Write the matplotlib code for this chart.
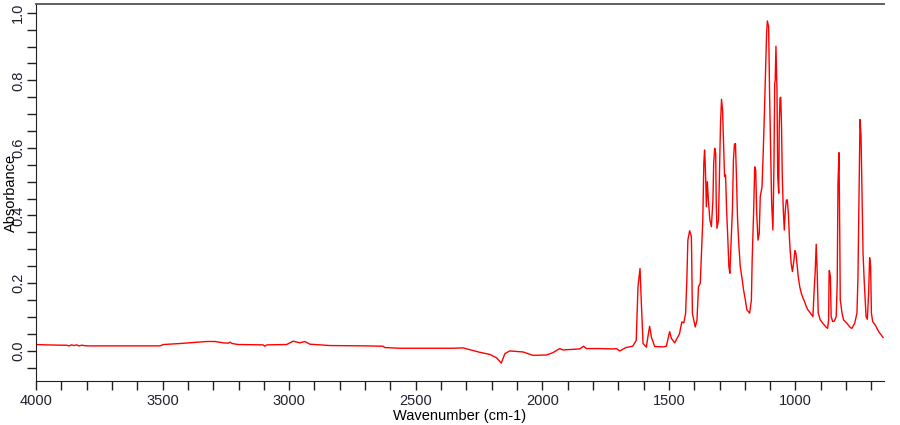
import matplotlib
matplotlib.use("Agg")
import matplotlib.pyplot as plt
from matplotlib.ticker import MultipleLocator
import numpy as np

plt.rcParams['font.family'] = ['Liberation Sans', 'DejaVu Sans']

# espectro (cm-1, absorbancia)
wavenumber = [
    4000, 3960, 3900, 3879, 3870, 3860, 3850, 3840, 3830, 3820, 3800, 3700, 3600, 3510,
    3497, 3431, 3379, 3326, 3293, 3260, 3240, 3234, 3225, 3201, 3103, 3096, 3088, 3010,
    2984, 2958, 2938, 2918, 2839, 2700, 2629, 2622, 2563, 2458, 2353, 2313, 2287, 2247,
    2208, 2181, 2162, 2148, 2129, 2076, 2037, 1984, 1958, 1931, 1918, 1852, 1837, 1826,
    1773, 1721, 1707, 1694, 1670, 1643, 1629, 1622, 1614, 1609, 1602, 1589, 1581, 1576,
    1569, 1556, 1523, 1510, 1497, 1490, 1477, 1458, 1449, 1441, 1434, 1429, 1425, 1418,
    1411, 1407, 1396, 1389, 1383, 1376, 1371, 1366, 1362, 1359, 1357, 1354, 1352, 1348,
    1344, 1338, 1332, 1326, 1323, 1319, 1315, 1313, 1310, 1304, 1300, 1296, 1292, 1288,
    1284, 1280, 1276, 1272, 1268, 1263, 1259, 1255, 1249, 1245, 1241, 1237, 1233, 1229,
    1224, 1218, 1212, 1205, 1198, 1192, 1181, 1174, 1171, 1165, 1161, 1157, 1153, 1148,
    1143, 1139, 1132, 1127, 1123, 1118, 1114, 1111, 1106, 1102, 1098, 1094, 1089, 1085,
    1082, 1080, 1077, 1073, 1070, 1066, 1064, 1061, 1058, 1055, 1052, 1048, 1044, 1040,
    1036, 1032, 1028, 1024, 1021, 1017, 1012, 1006, 1002, 998, 994, 989, 983, 977,
    970, 964, 957, 951, 941, 931, 926, 922, 918, 914, 910, 902, 892, 881,
    873, 869, 867, 866, 862, 859, 853, 846, 839, 835, 832, 828, 825, 823,
    816, 810, 797, 783, 777, 766, 757, 753, 749, 745, 741, 737, 733, 728,
    721, 716, 711, 707, 703, 700, 695, 685, 671, 654,
]
absorbance = [
    0.018, 0.017, 0.016, 0.016, 0.014, 0.017, 0.015, 0.017, 0.014, 0.016, 0.014, 0.014, 0.014, 0.014,
    0.018, 0.021, 0.024, 0.027, 0.027, 0.023, 0.022, 0.025, 0.021, 0.018, 0.017, 0.013, 0.017, 0.018,
    0.028, 0.023, 0.027, 0.019, 0.015, 0.014, 0.013, 0.009, 0.007, 0.007, 0.007, 0.008, 0.003, -0.005,
    -0.011, -0.021, -0.037, -0.009, -0.001, -0.004, -0.014, -0.013, -0.006, 0.006, 0.002, 0.005, 0.013, 0.006,
    0.006, 0.005, 0.006, -0.001, 0.009, 0.013, 0.030, 0.189, 0.243, 0.146, 0.021, 0.010, 0.050, 0.072,
    0.040, 0.012, 0.011, 0.013, 0.056, 0.036, 0.023, 0.050, 0.085, 0.082, 0.110, 0.209, 0.327, 0.355,
    0.337, 0.110, 0.070, 0.090, 0.189, 0.200, 0.290, 0.386, 0.554, 0.594, 0.564, 0.495, 0.426, 0.500,
    0.446, 0.386, 0.367, 0.446, 0.554, 0.599, 0.584, 0.436, 0.362, 0.386, 0.525, 0.673, 0.744, 0.712,
    0.614, 0.515, 0.520, 0.416, 0.347, 0.249, 0.229, 0.308, 0.416, 0.564, 0.611, 0.613, 0.515, 0.396,
    0.317, 0.249, 0.219, 0.180, 0.150, 0.121, 0.111, 0.150, 0.268, 0.416, 0.544, 0.534, 0.406, 0.327,
    0.347, 0.456, 0.485, 0.594, 0.693, 0.831, 0.939, 0.976, 0.959, 0.752, 0.594, 0.436, 0.357, 0.544,
    0.791, 0.800, 0.901, 0.771, 0.515, 0.466, 0.663, 0.748, 0.750, 0.663, 0.515, 0.416, 0.357, 0.416,
    0.446, 0.446, 0.406, 0.337, 0.298, 0.258, 0.234, 0.268, 0.296, 0.288, 0.258, 0.219, 0.189, 0.170,
    0.155, 0.145, 0.130, 0.121, 0.111, 0.101, 0.180, 0.234, 0.315, 0.229, 0.111, 0.091, 0.081, 0.071,
    0.066, 0.091, 0.234, 0.237, 0.219, 0.101, 0.086, 0.088, 0.101, 0.200, 0.495, 0.586, 0.347, 0.150,
    0.111, 0.091, 0.081, 0.068, 0.066, 0.081, 0.111, 0.219, 0.446, 0.684, 0.636, 0.456, 0.288, 0.200,
    0.101, 0.093, 0.170, 0.275, 0.249, 0.111, 0.086, 0.076, 0.056, 0.039,
]

fig = plt.figure(figsize=(9, 4.25), dpi=100)
ax = fig.add_axes([0.04, 0.1035, 0.942, 0.887])

ax.plot(wavenumber, absorbance, color='#ff0000', linewidth=1.0)

ax.set_xlim(4000, 651)
ax.set_ylim(-0.09, 1.026)

ax.xaxis.set_major_locator(MultipleLocator(500))
ax.xaxis.set_minor_locator(MultipleLocator(100))
ax.yaxis.set_major_locator(MultipleLocator(0.2))
ax.yaxis.set_minor_locator(MultipleLocator(0.05))
ax.yaxis.set_major_formatter(plt.FuncFormatter(lambda v, p: '%.1f' % v))

ax.tick_params(which='both', direction='out', length=6.5, width=1, color='#202020',
               labelsize=10.5, labelcolor='#202030')
ax.tick_params(axis='x', which='both', pad=2.5)
ax.tick_params(axis='y', which='both', pad=1.5)
for lbl in ax.get_yticklabels():
    lbl.set_rotation(90)
    lbl.set_va('center')

ax.spines['right'].set_visible(False)
ax.spines['top'].set_color('#606060')
ax.spines['top'].set_linewidth(1.4)
ax.spines['left'].set_color('#202020')
ax.spines['bottom'].set_color('#202020')

ax.set_xlabel('Wavenumber (cm-1)', fontsize=10.5)
ax.xaxis.set_label_coords(0.5, -0.074)
ax.set_ylabel('Absorbance', fontsize=10.5)
ax.yaxis.set_label_coords(-0.021, 0.5)

fig.savefig('out.png', dpi=100)
